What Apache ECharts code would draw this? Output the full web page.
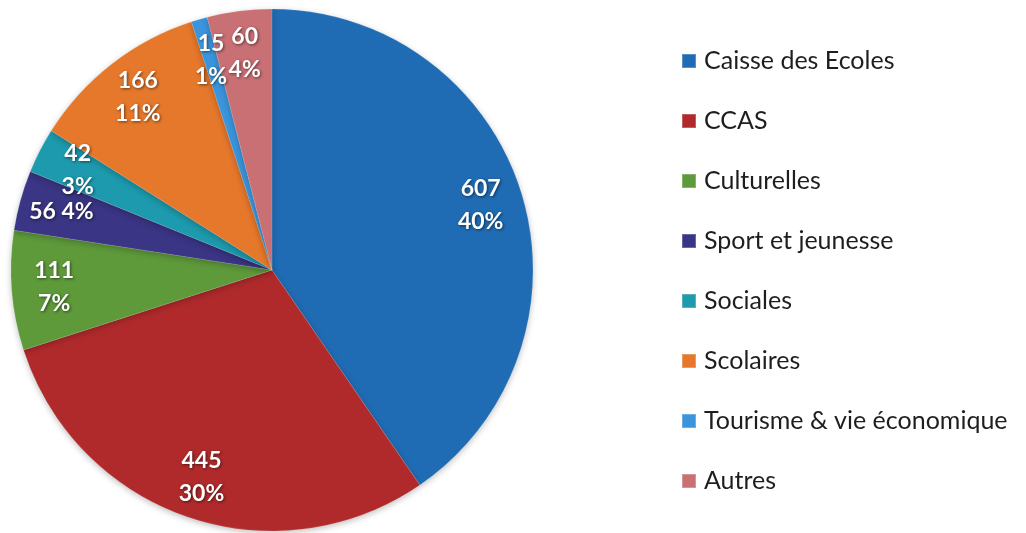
<!DOCTYPE html>
<html>
<head>
<meta charset="utf-8">
<script src="https://cdn.jsdelivr.net/npm/echarts@6/dist/echarts.min.js"></script>
<style>
  html, body { margin: 0; padding: 0; background: #fff; }
  #chart { width: 1026px; height: 533px; }
</style>
</head>
<body>
<div id="chart"></div>
<script>
// catégories et montants
const categories = ['Caisse des Ecoles', 'CCAS', 'Culturelles', 'Sport et jeunesse',
  'Sociales', 'Scolaires', 'Tourisme & vie économique', 'Autres']
const values = [607, 445, 111, 56, 42, 166, 15, 60]
const colors = ['#1f6cb4', '#b02a2c', '#5e9a3a', '#3a3584', '#1d9aad', '#e6782b', '#3b95dc', '#c97075']

const pieData = categories.map((name, i) => ({ name: name, value: values[i] }))

const chart = echarts.init(document.getElementById('chart'))

const option = {
  color: colors,
  animation: false,
  legend: {
    orient: 'vertical',
    left: 676,
    top: 43,
    icon: 'rect',
    itemWidth: 14,
    itemHeight: 14,
    itemGap: 34,
    textStyle: {
      fontFamily: 'Lato',
      fontSize: 25,
      color: '#1e1e1e',
      lineHeight: 26,
      padding: [0, 0, 0, 3]
    },
    data: categories
  },
  series: [
    {
      // le camembert
      name: 'montants',
      type: 'pie',
      center: [272, 270],
      radius: [0, 261],
      startAngle: 90,
      clockwise: true,
      silent: true,
      label: { show: false },
      labelLine: { show: false },
      itemStyle: {
        borderColor: 'rgba(255,255,255,0.25)',
        borderWidth: 0.5,
        shadowColor: 'rgba(0,0,0,0.25)',
        shadowBlur: 6,
        shadowOffsetY: 2
      },
      data: pieData
    },
    {
      // anneau transparent qui porte les étiquettes
      name: 'etiquettes',
      type: 'pie',
      center: [272, 270],
      radius: [170, 261],
      startAngle: 90,
      clockwise: true,
      silent: true,
      avoidLabelOverlap: false,
      percentPrecision: 0,
      itemStyle: { color: 'rgba(0,0,0,0)' },
      labelLine: { show: false },
      labelLayout: { hideOverlap: false },
      label: {
        show: true,
        position: 'inside',
        fontFamily: 'Lato',
        fontWeight: 'bold',
        fontSize: 23,
        lineHeight: 33,
        color: '#fff',
        textShadowColor: 'rgba(0,0,0,0.55)',
        textShadowBlur: 3,
        textShadowOffsetX: 1,
        textShadowOffsetY: 1,
        formatter: (p) => {
          if (p.name === 'Sport et jeunesse') {
            return p.value + ' ' + p.percent + '%'
          }
          return p.value + '\n' + p.percent + '%'
        }
      },
      emphasis: { disabled: true },
      data: pieData
    }
  ]
}

chart.setOption(option)
</script>
</body>
</html>
